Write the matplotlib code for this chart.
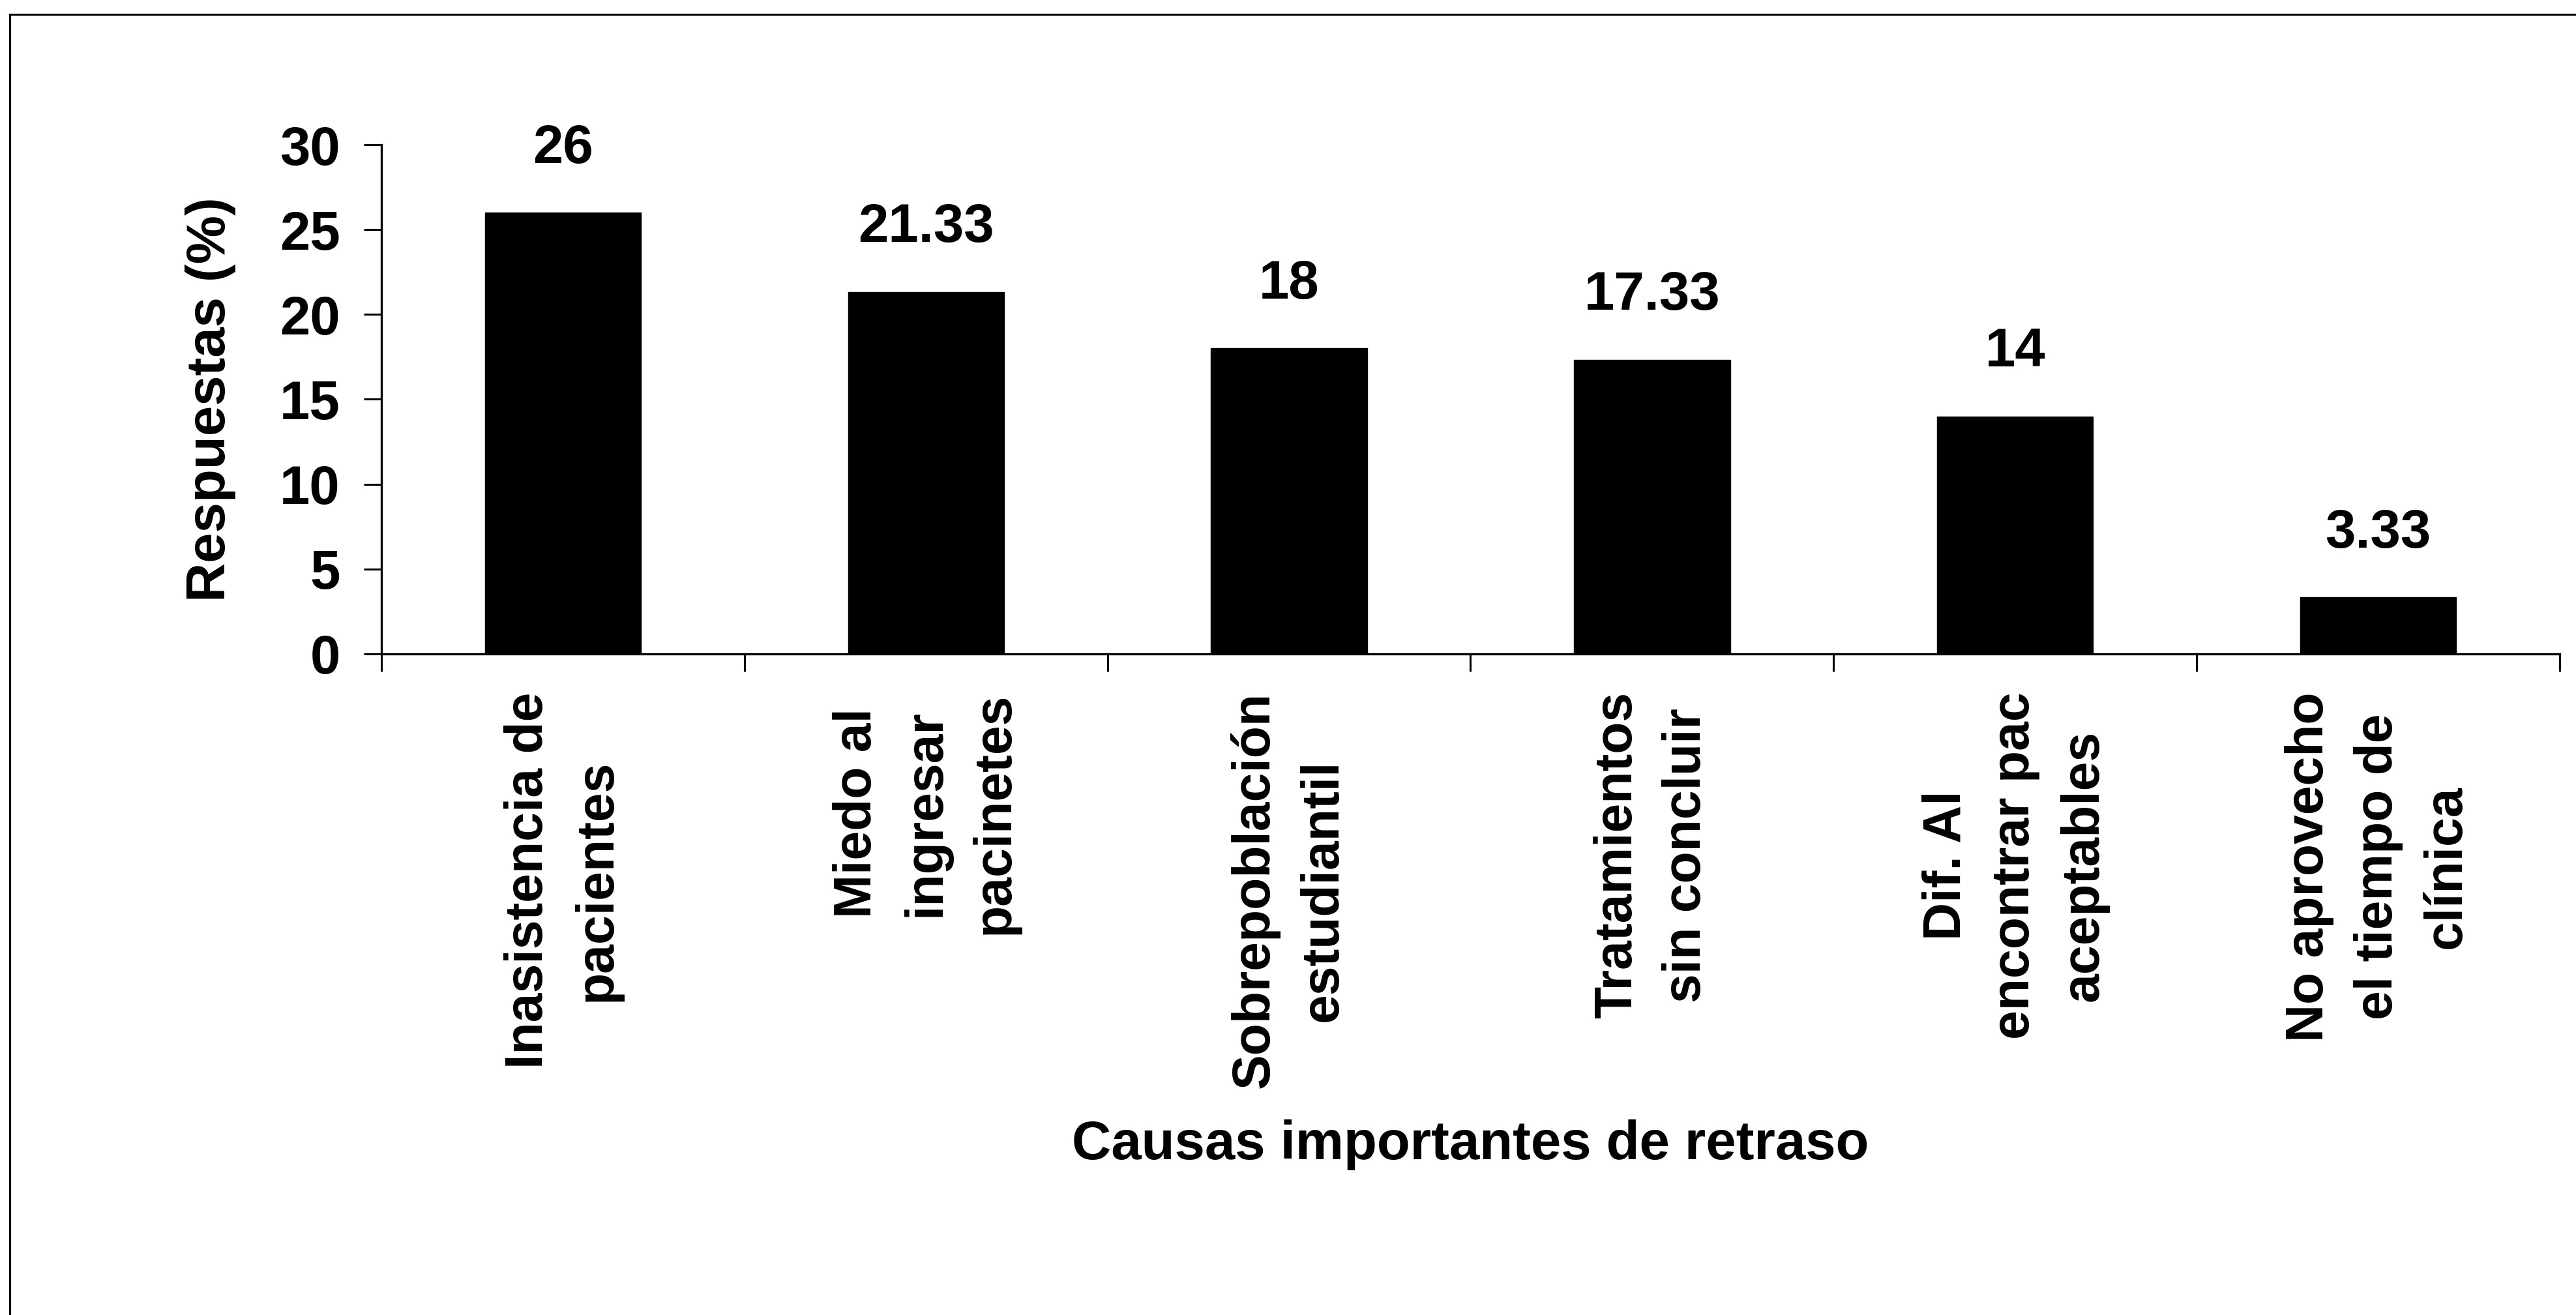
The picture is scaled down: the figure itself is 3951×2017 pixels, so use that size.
import matplotlib
matplotlib.use("Agg")
import matplotlib.pyplot as plt
from matplotlib.lines import Line2D

categories = [
    "Inasistencia de\npacientes",
    "Miedo al\ningresar\npacinetes",
    "Sobrepoblación\nestudiantil",
    "Tratamientos\nsin concluir",
    "Dif. Al\nencontrar pac\naceptables",
    "No aprovecho\nel tiempo de\nclínica",
]
values = [26, 21.33, 18, 17.33, 14, 3.33]
value_labels = ["26", "21.33", "18", "17.33", "14", "3.33"]
y_ticks = [0, 5, 10, 15, 20, 25, 30]
x_title = "Causas importantes de retraso"
y_title = "Respuestas (%)"

plt.rcParams['font.family'] = ['Liberation Sans', 'DejaVu Sans']
plt.rcParams['font.weight'] = 'bold'

W, H, DPI = 3951, 2017, 100
fig = plt.figure(figsize=(W / DPI, H / DPI), dpi=DPI)
fig.patch.set_facecolor('white')

left, right = 585 / W, 3926 / W
bottom, top = 1 - 1003 / H, 1 - 222 / H
ax = fig.add_axes([left, bottom, right - left, top - bottom])

x = list(range(len(values)))
ax.bar(x, values, width=0.43, color='black', edgecolor='black')

ax.set_xlim(-0.5, len(values) - 0.5)
ax.set_ylim(0, 30)
ax.set_yticks(y_ticks)
ax.set_yticklabels([str(t) for t in y_ticks], fontsize=60, fontweight='bold')

ax.set_xticks([i - 0.5 for i in range(len(values) + 1)])
ax.set_xticklabels([])
ax.set_xticks(x, minor=True)
ax.set_xticklabels(categories, minor=True, rotation=90, fontsize=58,
                   fontweight='bold')
for lbl in ax.get_xticklabels(minor=True):
    lbl.set_multialignment('center')
    lbl.set_linespacing(1.5)

ax.tick_params(axis='both', which='major', direction='out', length=19.5,
               width=2.2, color='black')
ax.tick_params(axis='y', pad=26)
ax.tick_params(axis='x', which='minor', length=0, pad=42)

for s in ['top', 'right']:
    ax.spines[s].set_visible(False)
for s in ['left', 'bottom']:
    ax.spines[s].set_linewidth(2.4)
    ax.spines[s].set_color('black')

for xi, v, lab in zip(x, values, value_labels):
    ax.annotate(lab, (xi, v), xytext=(0, 55), textcoords='offset points',
                ha='center', va='baseline', fontsize=60, fontweight='bold')

fig.text(0.5 * (left + right), 1 - 1756 / H, x_title, ha='center', va='center',
         fontsize=60, fontweight='bold')
fig.text(323 / W, 0.5 * (bottom + top), y_title, ha='center', va='center',
         rotation=90, fontsize=60, fontweight='bold')

# outer frame (left and top edges visible)
fx, fy = 15 / W, 1 - 22 / H
fig.add_artist(Line2D([fx, fx], [0, fy], transform=fig.transFigure,
                      color='black', linewidth=2.2))
fig.add_artist(Line2D([fx, 1], [fy, fy], transform=fig.transFigure,
                      color='black', linewidth=2.2))

fig.savefig("out.png", dpi=DPI, facecolor='white')
